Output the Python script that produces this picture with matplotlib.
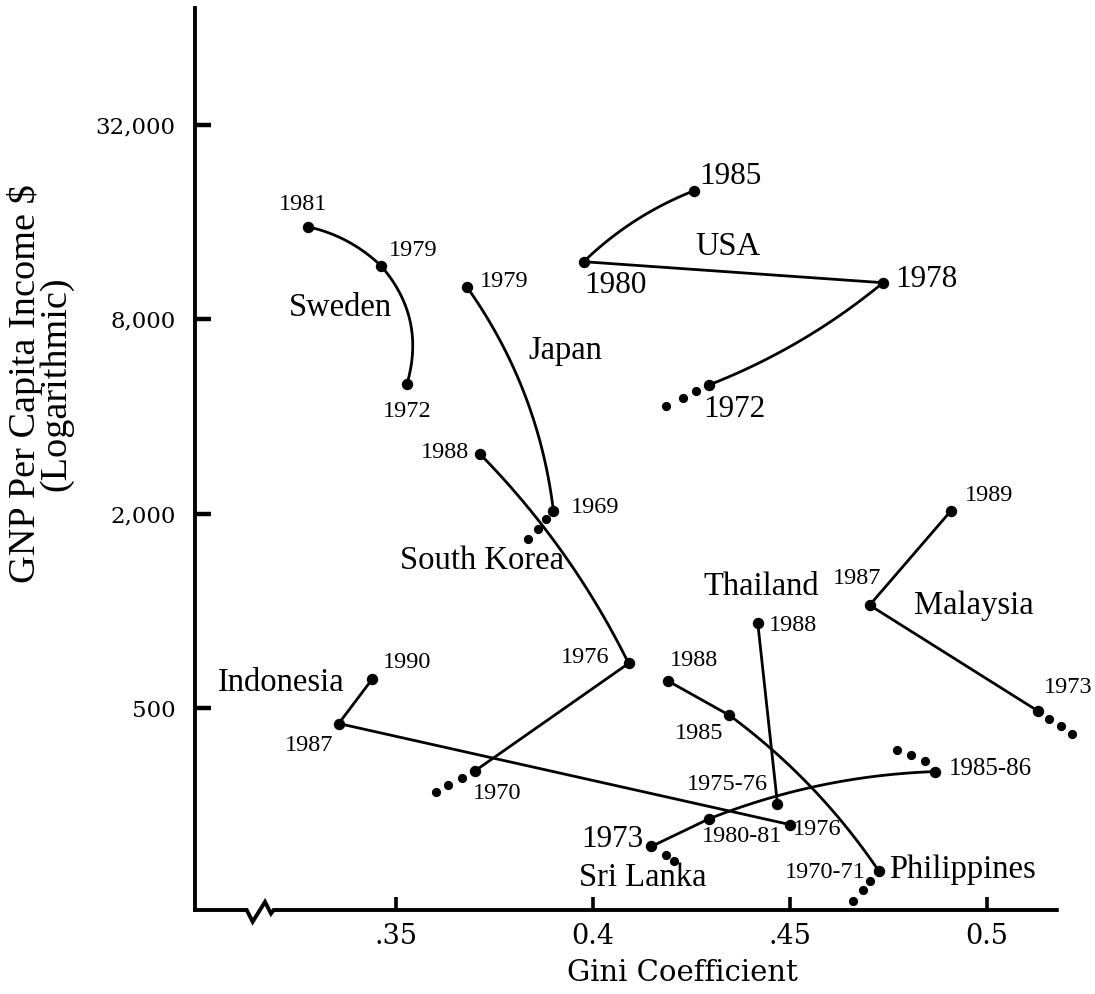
import numpy as np
import matplotlib
matplotlib.use("Agg")
import matplotlib.pyplot as plt
from matplotlib.ticker import FixedLocator, NullLocator

# ---- data (Gini coefficient, GNP per capita $) ----
sweden_years = ["1981", "1979", "1972"]
sweden_gini = [0.3276, 0.3462, 0.3528]
sweden_gnp = [15490, 11730, 5035]

usa_years = ["1985", "1980", "1978", "1972"]
usa_gini = [0.4257, 0.3977, 0.4737, 0.4295]
usa_gnp = [20020, 12070, 10390, 5011]
usa_trail_gini = [0.4263, 0.4228, 0.4187]
usa_trail_gnp = [4805, 4552, 4312]

japan_years = ["1979", "1969"]
japan_gini = [0.3681, 0.3900]
japan_gnp = [10056, 2046]
japan_trail_gini = [0.3882, 0.3861, 0.3836]
japan_trail_gnp = [1923, 1788, 1670]

korea_years = ["1988", "1976", "1970"]
korea_gini = [0.3713, 0.4091, 0.3700]
korea_gnp = [3068, 688, 319]
korea_trail_gini = [0.3667, 0.3633, 0.3601]
korea_trail_gnp = [303, 289, 274]

indonesia_years = ["1990", "1987", "1976"]
indonesia_gini = [0.3440, 0.3355, 0.4500]
indonesia_gnp = [615, 448, 218]

thailand_years = ["1988", "1975-76"]
thailand_gini = [0.4419, 0.4469]
thailand_gnp = [917, 252]

malaysia_years = ["1989", "1987", "1973"]
malaysia_gini = [0.4910, 0.4703, 0.5130]
malaysia_gnp = [2046, 1042, 490]
malaysia_trail_gini = [0.5159, 0.5188, 0.5217]
malaysia_trail_gnp = [463, 439, 415]

philippines_years = ["1988", "1985", "1970-71"]
philippines_gini = [0.4191, 0.4347, 0.4727]
philippines_gnp = [607, 475, 156]
philippines_trail_gini = [0.4703, 0.4685, 0.4660]
philippines_trail_gnp = [146, 136.5, 126]

srilanka_years = ["1973", "1980-81", "1985-86"]
srilanka_gini = [0.4149, 0.4295, 0.4868]
srilanka_gnp = [186.5, 227, 318]
srilanka_trail_gini = [0.4185, 0.4207, 0.4773, 0.4808, 0.4844]
srilanka_trail_gnp = [175, 167.5, 370, 357, 342]

y_ticks = [500, 2000, 8000, 32000]
y_ticklabels = ["500", "2,000", "8,000", "32,000"]
x_ticks = [0.35, 0.40, 0.45, 0.50]
x_ticklabels = [".35", "0.4", ".45", "0.5"]

# ---- styling: per series (segment bends, year label offsets in points) ----
series = [
    # name, gini, gnp, years, trail gini, trail gnp, bends, offsets, label size, name pos
    ("Sweden", sweden_gini, sweden_gnp, sweden_years, [], [],
     [0.07, 0.137], [(-3, 16), (23, 11), (0, -19.5)], 17.5, (0.336, 8670)),
    ("USA", usa_gini, usa_gnp, usa_years, usa_trail_gini, usa_trail_gnp,
     [-0.05, 0.0, 0.04], [(26, 10.5), (23, -17), (31, 2), (18.5, -18)], 22.5, (0.4343, 13400)),
    ("Japan", japan_gini, japan_gnp, japan_years, japan_trail_gini, japan_trail_gnp,
     [0.063], [(27, 4), (30, 2)], 17.5, (0.3931, 6400)),
    ("South Korea", korea_gini, korea_gnp, korea_years, korea_trail_gini, korea_trail_gnp,
     [0.04, 0.0], [(-25, 1), (-31, 4.5), (16.5, -16)], 17.5, (0.372, 1435)),
    ("Indonesia", indonesia_gini, indonesia_gnp, indonesia_years, [], [],
     [0.0, 0.0], [(25, 12), (-21, -16), (20, -3.5)], 17.5, (0.3208, 600)),
    ("Thailand", thailand_gini, thailand_gnp, thailand_years, [], [],
     [0.0], [(25, -2), (-36, 14)], 17.5, (0.4429, 1185)),
    ("Malaysia", malaysia_gini, malaysia_gnp, malaysia_years, malaysia_trail_gini, malaysia_trail_gnp,
     [0.0, 0.0], [(27, 11), (-9, 19), (22, 17)], 17.5, (0.4967, 1040)),
    ("Philippines", philippines_gini, philippines_gnp, philippines_years,
     philippines_trail_gini, philippines_trail_gnp,
     [0.0, 0.043], [(19, 14.5), (-22, -13), (-39, -1)], 17.5, (0.4939, 158)),
    ("Sri Lanka", srilanka_gini, srilanka_gnp, srilanka_years, srilanka_trail_gini, srilanka_trail_gnp,
     [0.0, 0.043], [(-28, 5), (24, -13), (40, 2)], [22.5, 17.5, 18], (0.4127, 149)),
]

label_font = "Liberation Serif"
tick_font = "DejaVu Serif"

fig = plt.figure(figsize=(10.95, 9.94), dpi=100)
ax = fig.add_axes([195 / 1095, 84 / 994, 894 / 1095, 902 / 994])
ax.set_yscale("log", base=4)
ax.set_xlim(0.299, 0.526)
ax.set_ylim(118.5, 73700)

for s in ["top", "right", "bottom"]:
    ax.spines[s].set_visible(False)
ax.spines["left"].set_linewidth(2.8)

# x axis drawn by hand so it can carry the break mark
brk_x = [0, 0.0578, 0.0645, 0.0783, 0.085, 0.088, 0.964]
brk_y = [0, 0, -0.013, 0.009, -0.004, 0, 0]
ax.plot(brk_x, brk_y, color="black", lw=2.8, transform=ax.transAxes,
        clip_on=False, solid_joinstyle="miter")

ax.xaxis.set_major_locator(FixedLocator(x_ticks))
ax.set_xticklabels(x_ticklabels, fontfamily=tick_font, fontsize=19.5)
ax.yaxis.set_major_locator(FixedLocator(y_ticks))
ax.yaxis.set_minor_locator(NullLocator())
ax.set_yticklabels(y_ticklabels, fontfamily=tick_font, fontsize=16.5)
ax.tick_params(axis="x", direction="in", length=9.5, width=2.6, pad=9)
ax.tick_params(axis="y", direction="in", length=11.5, width=3.2, pad=14)


def curve(p0, p2, bend, n=50):
    # quadratic bezier in display space, bulge = bend * chord length
    a = ax.transData.transform(p0)
    b = ax.transData.transform(p2)
    d = b - a
    L = np.hypot(*d)
    nrm = np.array([-d[1], d[0]]) / L
    c = (a + b) / 2 + 2 * bend * L * nrm
    t = np.linspace(0, 1, n)[:, None]
    pts = (1 - t) ** 2 * a + 2 * (1 - t) * t * c + t ** 2 * b
    return ax.transData.inverted().transform(pts)


for name, gx, gy, years, tx, ty, bends, offs, lsize, npos in series:
    for i in range(len(gx) - 1):
        pts = curve((gx[i], gy[i]), (gx[i + 1], gy[i + 1]), bends[i])
        ax.plot(pts[:, 0], pts[:, 1], color="black", lw=2.0, solid_capstyle="round")
    ax.plot(gx, gy, "o", color="black", ms=7.2)
    if tx:
        ax.plot(tx, ty, "o", color="black", ms=5.6, clip_on=False)
    sizes = lsize if isinstance(lsize, list) else [lsize] * len(years)
    for x, y, yr, (dx, dy), fs in zip(gx, gy, years, offs, sizes):
        ax.annotate(yr, (x, y), xytext=(dx, dy), textcoords="offset points",
                    ha="center", va="center", fontsize=fs, fontfamily=label_font)
    ax.text(npos[0], npos[1], name, ha="center", va="center",
            fontsize=23.5, fontfamily=label_font)

fig.text(40 / 1095, 1 - 384 / 994, "GNP Per Capita Income \\$\n(Logarithmic)",
         rotation=90, ha="center", va="center", multialignment="center",
         fontsize=27.5, fontfamily=label_font, linespacing=0.84)
fig.text(682 / 1095, 1 - 973 / 994, "Gini Coefficient", ha="center", va="center",
         fontsize=21, fontfamily=tick_font)

fig.savefig("out.png", dpi=100)
